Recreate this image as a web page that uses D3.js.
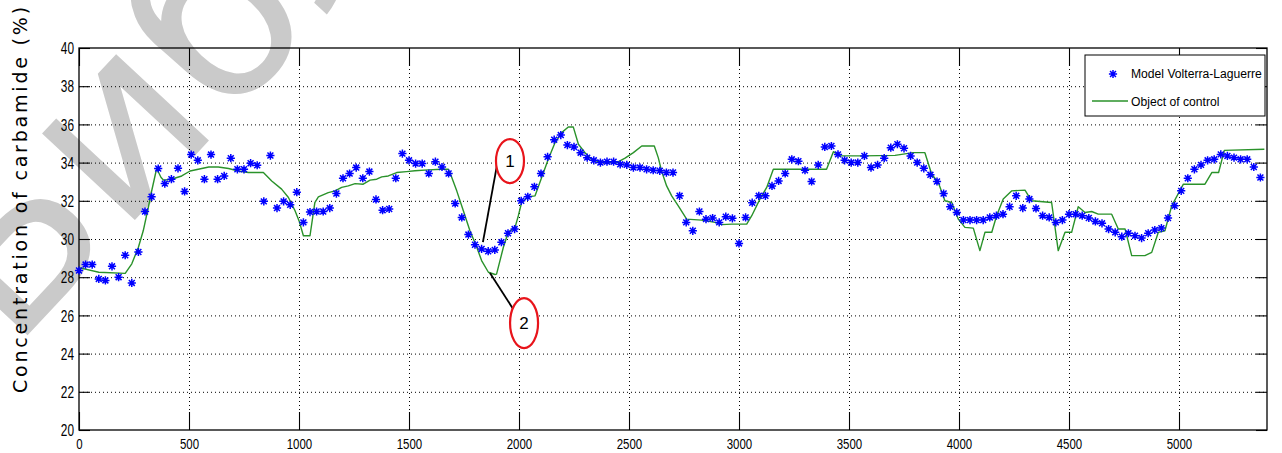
<!DOCTYPE html>
<html>
<head>
<meta charset="utf-8">
<script src="https://cdn.jsdelivr.net/npm/d3@7"></script>
<style>
  html, body { margin: 0; padding: 0; background: #fff; }
  svg { display: block; }
</style>
</head>
<body>
<svg id="chart" width="1282" height="453"></svg>
<script>
// Model output (Volterra-Laguerre), one sample every samplePeriod seconds
const samplePeriod = 30;
const modelValues = [
  28.35, 28.66, 28.66, 27.91, 27.83, 28.57, 28.00, 29.15, 27.70, 29.32,
  31.44, 32.21, 33.69, 32.90, 33.13, 33.70, 32.49, 34.42, 34.12, 33.13,
  34.42, 33.13, 33.30, 34.23, 33.65, 33.65, 33.97, 33.86, 31.97, 34.37,
  31.62, 31.97, 31.79, 32.45, 30.87, 31.41, 31.44, 31.44, 31.62, 32.38,
  33.18, 33.43, 33.74, 33.18, 33.53, 32.07, 31.51, 31.57, 33.18, 34.47,
  34.12, 33.95, 33.95, 33.43, 34.05, 33.77, 33.43, 31.86, 31.13, 30.23,
  29.70, 29.48, 29.36, 29.43, 29.83, 30.30, 30.52, 32.00, 32.21, 32.73,
  33.43, 34.30, 35.20, 35.44, 34.92, 34.82, 34.52, 34.26, 34.12, 34.00,
  34.05, 34.05, 33.91, 33.88, 33.74, 33.74, 33.65, 33.60, 33.57, 33.48,
  33.48, 32.26, 30.87, 30.43, 31.44, 31.04, 31.10, 30.87, 31.17, 31.08,
  29.77, 31.13, 31.90, 32.26, 32.26, 32.78, 33.04, 33.43, 34.17, 34.07,
  33.60, 33.01, 33.88, 34.82, 34.87, 34.43, 34.12, 34.00, 34.00, 34.35,
  33.74, 33.88, 34.23, 34.78, 34.96, 34.75, 34.35, 34.00, 33.70, 33.36,
  33.01, 32.38, 31.69, 31.39, 30.99, 30.99, 30.99, 30.99, 31.13, 31.22,
  31.30, 31.69, 32.26, 31.62, 32.09, 31.60, 31.22, 31.13, 30.87, 30.99,
  31.30, 31.30, 31.22, 31.10, 30.92, 30.82, 30.52, 30.35, 30.12, 30.30,
  30.17, 30.05, 30.30, 30.47, 30.57, 31.10, 31.74, 32.52, 33.18, 33.65,
  33.88, 34.12, 34.17, 34.43, 34.35, 34.26, 34.17, 34.17, 33.77, 33.22
];

// Measured plant response (object of control): breakpoints of the trace
const controlTime = [
  0, 90, 210, 240, 270, 292, 315, 330, 353, 373, 385, 420, 467, 505, 542, 590,
  633, 680, 724, 770, 838, 876, 921, 952, 982, 1000, 1020, 1050, 1072, 1088,
  1133, 1164, 1194, 1224, 1255, 1292, 1323, 1353, 1376, 1406, 1444, 1489, 1527,
  1588, 1649, 1679, 1686, 1717, 1747, 1777, 1808, 1830, 1861, 1891, 1898, 1929,
  1951, 1982, 1997, 2012, 2042, 2073, 2103, 2133, 2164, 2194, 2224, 2247, 2270,
  2300, 2330, 2361, 2406, 2444, 2482, 2520, 2558, 2615, 2633, 2648, 2671, 2694,
  2724, 2762, 2830, 2891, 2921, 2967, 3035, 3058, 3095, 3126, 3156, 3398, 3429,
  3459, 3558, 3709, 3762, 3792, 3845, 3876, 3906, 3936, 3967, 3997, 4027, 4065,
  4095, 4118, 4149, 4171, 4201, 4240, 4300, 4330, 4421, 4451, 4482, 4512, 4542,
  4573, 4603, 4633, 4694, 4724, 4755, 4785, 4845, 4876, 4906, 4936, 4967, 5020,
  5118, 5149, 5180, 5206, 5388
];
const controlValue = [
  28.50, 28.26, 28.20, 28.70, 29.57, 30.43, 31.65, 32.50, 33.69, 33.22, 33.08,
  33.13, 33.30, 33.56, 33.65, 33.77, 33.77, 33.69, 33.56, 33.48, 33.48, 33.04,
  32.61, 32.17, 31.48, 30.96, 30.17, 30.17, 31.90, 32.20, 32.43, 32.52, 32.70,
  32.78, 32.90, 32.87, 33.08, 33.13, 33.25, 33.30, 33.48, 33.53, 33.57, 33.62,
  33.65, 33.65, 33.48, 32.52, 31.48, 30.43, 29.57, 28.87, 28.26, 28.14, 28.16,
  29.57, 30.35, 30.61, 31.22, 31.91, 32.21, 32.26, 33.22, 34.17, 35.05, 35.57,
  35.86, 35.86, 34.96, 34.52, 34.17, 34.05, 34.00, 34.00, 34.23, 34.52, 34.87,
  34.87, 34.26, 33.56, 32.78, 32.26, 31.74, 31.04, 30.99, 30.87, 30.75, 30.78,
  30.78, 31.22, 32.09, 32.70, 33.65, 33.65, 34.57, 34.35, 34.35, 34.38, 34.47,
  34.52, 34.52, 33.39, 32.96, 32.00, 31.91, 31.04, 30.61, 30.57, 29.39, 30.35,
  30.35, 31.22, 32.09, 32.52, 32.56, 32.00, 31.91, 29.39, 30.35, 30.35, 31.69,
  31.39, 31.44, 31.30, 31.30, 30.52, 30.52, 29.13, 29.13, 29.30, 30.35, 30.43,
  31.74, 32.87, 32.87, 33.48, 33.48, 34.64, 34.70
];

const xTicks = [0, 500, 1000, 1500, 2000, 2500, 3000, 3500, 4000, 4500, 5000];
const yTicks = [20, 22, 24, 26, 28, 30, 32, 34, 36, 38, 40];
const seriesNames = ["Model Volterra-Laguerre", "Object of control"];
const yTitle = "Concentration of carbamide (%)";

// Callouts "1" (model) and "2" (plant): leader start, leader end, ellipse centre
const callouts = [
  { label: "1", from: [1836, 29.84], to: [1900, 33.87], at: [1959, 34.08], ry: 22 },
  { label: "2", from: [1868, 28.22], to: [1982, 26.18], at: [2023, 25.60], ry: 25 }
];

const W = 1282, H = 453;
const margin = { top: 48, right: 15, bottom: 23, left: 79 };
const innerW = W - margin.left - margin.right;
const innerH = H - margin.top - margin.bottom;

const svg = d3.select("#chart");

const x = d3.scaleLinear().domain([0, 5400]).range([margin.left, W - margin.right]);
const y = d3.scaleLinear().domain([20, 40]).range([H - margin.bottom, margin.top]);

const tickFont = "'Liberation Sans', Arial, sans-serif";
const narrow = 0.74;

// library stamp, printed underneath the figure
svg.append("text")
  .attr("transform", "translate(12,352) rotate(-47)")
  .style("font-family", "'DejaVu Sans', sans-serif")
  .style("font-size", "232px")
  .attr("fill", "#cacaca")
  .text("Библиотека");

// dotted grid
svg.append("g")
  .attr("transform", `translate(0,${H - margin.bottom})`)
  .call(d3.axisBottom(x).tickValues(xTicks.slice(1)).tickSize(-innerH).tickFormat(""))
  .call(g => g.select(".domain").remove())
  .call(g => g.selectAll("line").attr("stroke", "#000").attr("stroke-dasharray", "1,3"));
svg.append("g")
  .attr("transform", `translate(${margin.left},0)`)
  .call(d3.axisLeft(y).tickValues(yTicks.slice(1, -1)).tickSize(-innerW).tickFormat(""))
  .call(g => g.select(".domain").remove())
  .call(g => g.selectAll("line").attr("stroke", "#000").attr("stroke-dasharray", "1,3"));

// inward ticks on all four sides
const bottomAxis = svg.append("g")
  .attr("transform", `translate(0,${H - margin.bottom})`)
  .call(d3.axisBottom(x).tickValues(xTicks).tickFormat(d3.format("d"))
    .tickSizeInner(-18).tickSizeOuter(0));
bottomAxis.selectAll("text")
  .attr("y", 19).attr("dy", null)
  .attr("transform", `scale(${narrow},1)`)
  .style("font-family", tickFont).style("font-size", "15.5px").attr("fill", "#000");

svg.append("g")
  .attr("transform", `translate(0,${margin.top})`)
  .call(d3.axisTop(x).tickValues(xTicks).tickSizeInner(-18).tickSizeOuter(0).tickFormat(""));

const leftAxis = svg.append("g")
  .attr("transform", `translate(${margin.left},0)`)
  .call(d3.axisLeft(y).tickValues(yTicks).tickFormat(d3.format("d"))
    .tickSizeInner(-11).tickSizeOuter(0));
leftAxis.selectAll("text")
  .attr("x", -5 / narrow).attr("dy", "0.36em")
  .attr("transform", `scale(${narrow},1)`)
  .style("font-family", tickFont).style("font-size", "16px").attr("fill", "#000");

svg.append("g")
  .attr("transform", `translate(${W - margin.right},0)`)
  .call(d3.axisRight(y).tickValues(yTicks).tickSizeInner(-11).tickSizeOuter(0).tickFormat(""));

svg.selectAll(".domain").remove();
svg.selectAll(".tick line").filter(function () { return !this.getAttribute("stroke-dasharray"); })
  .attr("stroke", "#000").attr("stroke-width", 1.1);

// plot box
svg.append("rect")
  .attr("x", margin.left).attr("y", margin.top)
  .attr("width", innerW).attr("height", innerH)
  .attr("fill", "none").attr("stroke", "#000").attr("stroke-width", 1.3);

// plant response line
const controlPts = controlTime.map((t, i) => [t, controlValue[i]]);
svg.append("path")
  .datum(controlPts)
  .attr("fill", "none")
  .attr("stroke", "#2a922a")
  .attr("stroke-width", 1.4)
  .attr("stroke-linejoin", "round")
  .attr("d", d3.line().x(d => x(d[0])).y(d => y(d[1])));

// asterisk marker
const starR = 4.1, starD = starR * 0.72;
const starPath = `M0,${-starR}V${starR}M${-starR},0H${starR}` +
  `M${-starD},${-starD}L${starD},${starD}M${-starD},${starD}L${starD},${-starD}`;

svg.append("g")
  .selectAll("path")
  .data(modelValues)
  .join("path")
  .attr("transform", (v, i) => `translate(${x(i * samplePeriod)},${y(v)})`)
  .attr("d", starPath)
  .attr("fill", "none")
  .attr("stroke", "#0000ff")
  .attr("stroke-width", 1.5);

// callouts
const co = svg.append("g");
callouts.forEach(c => {
  co.append("line")
    .attr("x1", x(c.from[0])).attr("y1", y(c.from[1]))
    .attr("x2", x(c.to[0])).attr("y2", y(c.to[1]))
    .attr("stroke", "#000").attr("stroke-width", 1.8);
  co.append("ellipse")
    .attr("cx", x(c.at[0])).attr("cy", y(c.at[1]))
    .attr("rx", 14).attr("ry", c.ry)
    .attr("fill", "#fff").attr("stroke", "#e8141b").attr("stroke-width", 2.2);
  co.append("text")
    .attr("x", x(c.at[0])).attr("y", y(c.at[1]) + 6)
    .attr("text-anchor", "middle")
    .style("font-family", tickFont).style("font-size", "17px")
    .attr("fill", "#000").text(c.label);
});

// legend
const legendNarrow = 0.9;
const lg = svg.append("g");
lg.append("rect")
  .attr("x", 1085).attr("y", 55).attr("width", 180).attr("height", 61)
  .attr("fill", "#fff").attr("stroke", "#000").attr("stroke-width", 1);
lg.append("path")
  .attr("transform", "translate(1113,74)")
  .attr("d", starPath).attr("fill", "none").attr("stroke", "#0000ff").attr("stroke-width", 1.5);
lg.append("line")
  .attr("x1", 1092).attr("x2", 1128).attr("y1", 101).attr("y2", 101)
  .attr("stroke", "#2a922a").attr("stroke-width", 1.4);
lg.selectAll("text")
  .data(seriesNames)
  .join("text")
  .attr("x", 1131 / legendNarrow)
  .attr("y", (d, i) => 78 + i * 28)
  .attr("transform", `scale(${legendNarrow},1)`)
  .style("font-family", tickFont).style("font-size", "13.5px")
  .attr("fill", "#000")
  .text(d => d);

// y axis title
svg.append("text")
  .attr("transform", "translate(27,393) rotate(-90)")
  .attr("text-anchor", "start")
  .style("font-family", "'DejaVu Sans', Verdana, sans-serif")
  .style("font-size", "19px")
  .style("letter-spacing", "2.8px")
  .attr("fill", "#000")
  .text(yTitle);
</script>
</body>
</html>
